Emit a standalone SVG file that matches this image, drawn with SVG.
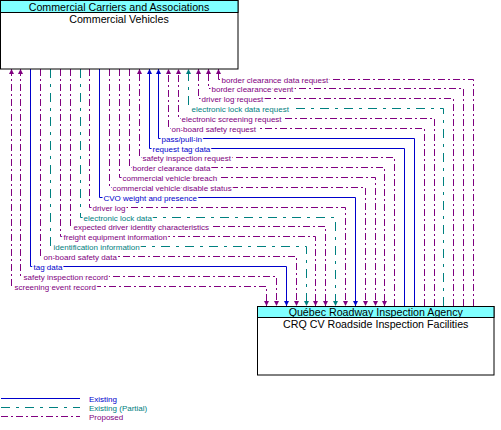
<svg xmlns="http://www.w3.org/2000/svg" width="501" height="430" viewBox="0 0 501 430">
<style>
.box{fill:#fff;stroke:#000;stroke-width:1}
.hdr{fill:#80ffff;stroke:#000;stroke-width:1}
.t{font-family:"Liberation Sans",Arial,sans-serif;font-size:10.67px;fill:#000;text-anchor:middle}
.l{font-family:"Liberation Sans",Arial,sans-serif;font-size:8px;paint-order:stroke;stroke:#fff;stroke-width:3px;stroke-linejoin:round}
.f{fill:none;stroke-width:1}
.ex{stroke:#0000cc}
.pa{stroke:#008080;stroke-dasharray:9,6,3,6}
.pr{stroke:#800080;stroke-dasharray:7,3,2,3}
.lex{fill:#0000cc}.lpa{fill:#008080}.lpr{fill:#800080}
</style>
<defs>
<marker id="aB" markerUnits="userSpaceOnUse" markerWidth="6" markerHeight="6" refX="5" refY="2.5" orient="auto-start-reverse"><path d="M0,0 L5,2.5 L0,5 z" fill="#0000cc"/></marker>
<marker id="aT" markerUnits="userSpaceOnUse" markerWidth="6" markerHeight="6" refX="5" refY="2.5" orient="auto-start-reverse"><path d="M0,0 L5,2.5 L0,5 z" fill="#008080"/></marker>
<marker id="aP" markerUnits="userSpaceOnUse" markerWidth="6" markerHeight="6" refX="5" refY="2.5" orient="auto-start-reverse"><path d="M0,0 L5,2.5 L0,5 z" fill="#800080"/></marker>
</defs>
<g id="connectors">
<path class="f pr" d="M473.5,306 V79.5 H218.5 V69" marker-end="url(#aP)"/>
<path class="f pr" d="M463.5,306 V88.5 H208.5 V69" marker-end="url(#aP)"/>
<path class="f pr" d="M453.5,306 V98.5 H198.5 V69" marker-end="url(#aP)"/>
<path class="f pa" d="M443.5,306 V108.5 H188.5 V69" marker-end="url(#aT)"/>
<path class="f pr" d="M434.5,306 V118.5 H178.5 V69" marker-end="url(#aP)"/>
<path class="f pr" d="M424.5,306 V128.5 H168.5 V69" marker-end="url(#aP)"/>
<path class="f ex" d="M414.5,306 V138.5 H158.5 V69" marker-end="url(#aB)"/>
<path class="f ex" d="M404.5,306 V148.5 H149.5 V69" marker-end="url(#aB)"/>
<path class="f pr" d="M394.5,306 V157.5 H139.5 V69" marker-end="url(#aP)"/>
<path class="f pr" d="M129.5,69 V167.5 H384.5 V306" marker-end="url(#aP)"/>
<path class="f pr" d="M119.5,69 V177.5 H375.5 V306" marker-end="url(#aP)"/>
<path class="f pr" d="M109.5,69 V187.5 H365.5 V306" marker-end="url(#aP)"/>
<path class="f ex" d="M99.5,69 V197.5 H355.5 V306" marker-end="url(#aB)"/>
<path class="f pr" d="M89.5,69 V207.5 H345.5 V306" marker-end="url(#aP)"/>
<path class="f pa" d="M80.5,69 V217.5 H335.5 V306" marker-end="url(#aT)"/>
<path class="f pr" d="M70.5,69 V226.5 H325.5 V306" marker-end="url(#aP)"/>
<path class="f pr" d="M60.5,69 V236.5 H315.5 V306" marker-end="url(#aP)"/>
<path class="f pa" d="M50.5,69 V246.5 H306.5 V306" marker-end="url(#aT)"/>
<path class="f pr" d="M40.5,69 V256.5 H296.5 V306" marker-end="url(#aP)"/>
<path class="f ex" d="M30.5,69 V266.5 H286.5 V306" marker-end="url(#aB)"/>
<path class="f pr" d="M20.5,69 V276.5 H276.5 V306" marker-start="url(#aP)" marker-end="url(#aP)"/>
<path class="f pr" d="M11.5,69 V286.5 H266.5 V306" marker-start="url(#aP)" marker-end="url(#aP)"/>
</g>
<g id="labels">
<text class="l lpr" x="221.5" y="82.5">border clearance data request</text>
<text class="l lpr" x="211.5" y="91.5">border clearance event</text>
<text class="l lpr" x="201.5" y="101.5">driver log request</text>
<text class="l lpa" x="191.5" y="111.5">electronic lock data request</text>
<text class="l lpr" x="181.5" y="121.5">electronic screening request</text>
<text class="l lpr" x="171.5" y="131.5">on-board safety request</text>
<text class="l lex" x="161.5" y="141.5">pass/pull-in</text>
<text class="l lex" x="152.5" y="151.5">request tag data</text>
<text class="l lpr" x="142.5" y="160.5">safety inspection request</text>
<text class="l lpr" x="132.5" y="170.5">border clearance data</text>
<text class="l lpr" x="122.5" y="180.5">commercial vehicle breach</text>
<text class="l lpr" x="112.5" y="190.5">commercial vehicle disable status</text>
<text class="l lex" x="103.5" y="200.5">CVO weight and presence</text>
<text class="l lpr" x="92.5" y="210.5">driver log</text>
<text class="l lpa" x="83.5" y="220.5">electronic lock data</text>
<text class="l lpr" x="73.5" y="229.5">expected driver identity characteristics</text>
<text class="l lpr" x="63.5" y="239.5">freight equipment information</text>
<text class="l lpa" x="53.5" y="249.5">identification information</text>
<text class="l lpr" x="43.5" y="259.5">on-board safety data</text>
<text class="l lex" x="33.5" y="269.5">tag data</text>
<text class="l lpr" x="23.5" y="279.5">safety inspection record</text>
<text class="l lpr" x="14.5" y="289.5">screening event record</text>
</g>
<g id="node-commercial-vehicles">
<rect class="box" x="0.5" y="0.5" width="237.5" height="68.5"/>
<rect class="hdr" x="0.5" y="0.5" width="237.5" height="12"/>
<text class="t" x="119" y="10.5">Commercial Carriers and Associations</text>
<text class="t" x="119" y="22.5">Commercial Vehicles</text>
</g>
<g id="node-crq-cv-roadside">
<rect class="box" x="257.5" y="306.5" width="236.5" height="68.5"/>
<rect class="hdr" x="257.5" y="306.5" width="236.5" height="11"/>
<text class="t" x="375.75" y="316">Québec Roadway Inspection Agency</text>
<text class="t" x="375.75" y="328">CRQ CV Roadside Inspection Facilities</text>
</g>
<g id="legend">
<line class="f ex" x1="1" y1="398.5" x2="80" y2="398.5"/>
<line class="f pa" x1="1" y1="407.5" x2="80" y2="407.5"/>
<line class="f pr" x1="1" y1="416.5" x2="80" y2="416.5"/>
<text class="l lex" x="89" y="401.5">Existing</text>
<text class="l lpa" x="89" y="410.5">Existing (Partial)</text>
<text class="l lpr" x="89" y="419.5">Proposed</text>
</g>
</svg>
